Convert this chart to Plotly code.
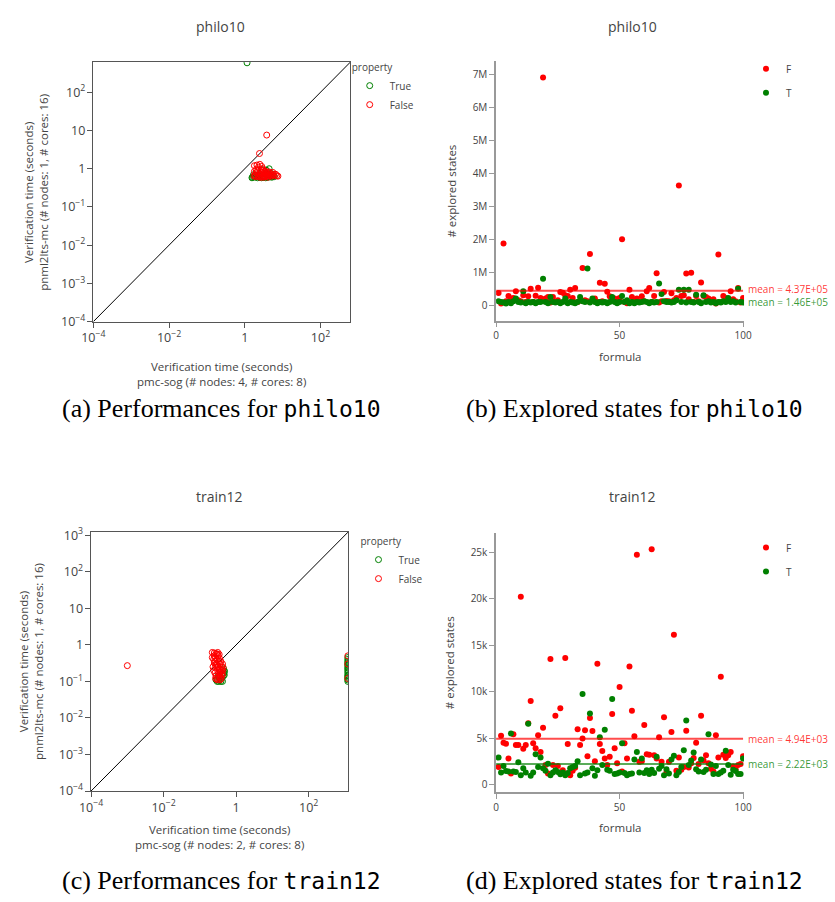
import plotly.graph_objects as go

W, H = 835, 902


def fx(p):
    return p / W


def fy(p):
    return 1 - p / H


# ---------------- data ----------------
# (a) philo10 : verification times (seconds)
A_TRUE_X = [1.15, 1.55, 1.6, 1.7, 1.9, 2.2, 2.5, 2.8, 3.2, 3.6, 4.0, 4.4, 3.7, 4.2, 4.8,
            5.2, 5.6, 6.0, 1.7, 2.0, 2.6, 3.0, 3.4, 3.9, 4.6, 2.3, 3.1, 2.9, 5.0, 1.8]
A_TRUE_Y = [590, 0.58, 0.6, 0.62, 0.6, 0.58, 0.6, 0.58, 0.6, 0.58, 0.62, 1.0, 0.92, 0.6, 0.62,
            0.6, 0.65, 0.62, 0.7, 0.68, 0.7, 0.66, 0.72, 0.7, 0.7, 0.64, 0.62, 0.95, 0.75, 0.64]
A_FALSE_X = [1.75, 1.8, 1.9, 2.0, 2.1, 2.2, 2.3, 2.4, 2.5, 2.6, 2.7, 2.8, 2.9, 3.0, 3.1, 3.2,
             3.3, 3.4, 3.5, 3.6, 3.7, 3.8, 3.9, 4.0, 4.2, 4.4, 4.6, 4.8, 5.0, 5.3, 5.6, 6.0,
             6.5, 7.0, 7.5, 1.8, 2.0, 2.2, 2.5, 2.8, 3.0, 1.9, 2.3, 2.7, 3.2, 3.6, 4.1, 4.5,
             5.5, 3.8, 2.45]
A_FALSE_Y = [0.65, 1.2, 0.7, 0.78, 1.25, 0.66, 1.1, 0.72, 1.3, 0.68, 0.82, 1.15, 0.63, 0.75,
             0.9, 0.66, 0.8, 0.7, 0.62, 0.78, 0.68, 0.74, 0.64, 0.72, 0.8, 0.66, 0.7, 0.75,
             0.64, 0.68, 0.7, 0.65, 0.72, 0.66, 0.64, 0.85, 0.95, 0.88, 0.6, 0.6, 1.0, 0.62,
             0.62, 0.92, 0.6, 0.86, 0.6, 0.82, 0.8, 7.6, 2.5]
A_LOG_RANGE = [-4, 2.79]

# (b) philo10 : explored states per formula (millions)
FORMULA = list(range(1, 101))
B_F_M = [0.37, 0.05, 1.87, 0.12, 0.28, 0.2, 0.22, 0.42, 0.15, 0.12,
         0.3, 0.1, 0.27, 0.5, 0.1, 0.29, 0.53, 0.22, 6.9, 0.2,
         0.25, 0.08, 0.25, 0.1, 0.15, 0.4, 0.38, 0.3, 0.28, 0.47,
         0.22, 0.52, 0.1, 0.14, 1.13, 0.15, 0.12, 1.55, 0.15, 0.2,
         0.1, 0.68, 0.12, 0.65, 0.41, 0.27, 0.15, 0.2, 0.08, 0.22,
         2.0, 0.1, 0.06, 0.47, 0.25, 0.1, 0.2, 0.1, 0.27, 0.12,
         0.42, 0.52, 0.1, 0.28, 0.97, 0.08, 0.12, 0.4, 0.13, 0.12,
         0.36, 0.15, 0.22, 3.63, 0.28, 0.3, 0.96, 0.18, 0.98, 0.1,
         0.28, 0.12, 0.69, 0.28, 0.25, 0.2, 0.14, 0.18, 0.05, 1.54,
         0.1, 0.28, 0.22, 0.15, 0.42, 0.18, 0.12, 0.52, 0.08, 0.22]
B_T_M = [0.12, 0.1, 0.08, 0.05, 0.1, 0.06, 0.12, 0.2, 0.1, 0.08,
         0.42, 0.06, 0.1, 0.08, 0.1, 0.06, 0.1, 0.1, 0.8, 0.1,
         0.06, 0.25, 0.1, 0.08, 0.1, 0.06, 0.1, 0.2, 0.06, 0.1,
         0.08, 0.06, 0.1, 0.25, 0.12, 0.1, 1.11, 0.08, 0.2, 0.1,
         0.06, 0.1, 0.08, 0.1, 0.06, 0.1, 0.25, 0.1, 0.06, 0.1,
         0.28, 0.1, 0.15, 0.06, 0.1, 0.06, 0.1, 0.08, 0.1, 0.12,
         0.1, 0.06, 0.1, 0.08, 0.1, 0.66, 0.34, 0.12, 0.1, 0.1,
         0.08, 0.1, 0.15, 0.47, 0.1, 0.47, 0.08, 0.47, 0.1, 0.08,
         0.32, 0.1, 0.06, 0.3, 0.1, 0.12, 0.08, 0.1, 0.06, 0.1,
         0.08, 0.12, 0.1, 0.22, 0.1, 0.12, 0.08, 0.5, 0.1, 0.08]
B_MEAN_F = 4.37e5
B_MEAN_T = 1.46e5

# (c) train12 : verification times (seconds)
C_TRUE_X = [0.3, 0.33, 0.36, 0.4, 0.44, 0.46, 0.48, 0.45, 0.42, 0.28, 0.38, 0.47, 0.35, 0.32,
            0.41] + [1200] * 17
C_TRUE_Y = [0.1, 0.1, 0.11, 0.12, 0.14, 0.17, 0.19, 0.22, 0.1, 0.11, 0.1, 0.15, 0.13, 0.14,
            0.16, 0.1, 0.11, 0.12, 0.13, 0.14, 0.15, 0.17, 0.19, 0.21, 0.23, 0.25, 0.28, 0.3,
            0.33, 0.36, 0.4, 0.45]
C_FALSE_X = [0.22, 0.25, 0.28, 0.3, 0.32, 0.22, 0.24, 0.26, 0.28, 0.3, 0.32, 0.34, 0.36, 0.38,
             0.4, 0.42, 0.25, 0.27, 0.29, 0.31, 0.33, 0.35, 0.37, 0.39, 0.3, 0.28, 0.26, 0.24,
             0.23, 0.25, 0.27, 0.29, 0.33, 0.36, 0.4, 0.42, 0.38, 0.35, 0.31, 0.34, 0.3, 0.27,
             0.33, 0.36, 0.4, 0.43, 0.44, 0.001, 1200, 1200, 1200]
C_FALSE_Y = [0.62, 0.6, 0.58, 0.55, 0.5, 0.45, 0.4, 0.35, 0.3, 0.28, 0.25, 0.22, 0.2, 0.18,
             0.16, 0.15, 0.32, 0.27, 0.24, 0.2, 0.17, 0.15, 0.13, 0.12, 0.12, 0.14, 0.17, 0.2,
             0.25, 0.5, 0.45, 0.4, 0.35, 0.3, 0.25, 0.3, 0.35, 0.42, 0.62, 0.55, 0.11, 0.12,
             0.13, 0.11, 0.2, 0.2, 0.24, 0.27, 0.5, 0.12, 0.3]
C_LOG_RANGE = [-4, 3.085]

# (d) train12 : explored states per formula (thousands)
D_F_K = [1.9, 5.25, 4.5, 4.4, 2.8, 1.2, 5.4, 4.25, 4.25, 20.2,
         3.85, 4.25, 6.6, 9.0, 4.45, 3.9, 5.3, 3.5, 6.1, 2.1,
         1.2, 13.5, 2.1, 7.4, 2.0, 8.2, 1.55, 13.6, 4.35, 1.0,
         1.5, 1.8, 5.95, 4.25, 4.95, 5.85, 3.05, 7.15, 5.75, 2.5,
         13.0, 4.35, 3.6, 2.8, 2.1, 3.0, 7.6, 3.9, 2.3, 10.5,
         1.4, 4.45, 2.8, 12.7, 7.95, 5.2, 24.7, 2.45, 2.5, 6.4,
         3.25, 3.2, 25.3, 3.15, 2.8, 5.1, 2.45, 7.25, 1.35, 2.45,
         5.65, 16.1, 1.5, 2.9, 1.6, 1.9, 5.8, 1.85, 2.3, 2.85,
         4.5, 2.2, 7.4, 2.6, 3.15, 2.3, 1.7, 1.4, 5.3, 2.9,
         11.6, 3.2, 2.85, 3.15, 3.5, 1.95, 1.65, 2.1, 2.2, 3.05]
D_T_K = [2.9, 1.3, 2.0, 1.45, 1.4, 5.5, 1.4, 1.35, 2.4, 1.0,
         1.75, 1.3, 6.55, 0.95, 1.3, 3.25, 1.9, 2.9, 1.75, 1.5,
         2.25, 1.0, 1.3, 1.55, 1.35, 1.1, 1.3, 1.0, 1.25, 1.75,
         1.9, 2.0, 2.5, 1.0, 9.75, 1.2, 1.3, 7.65, 1.75, 0.95,
         1.55, 5.1, 2.1, 5.9, 1.6, 1.5, 9.2, 1.15, 1.2, 1.3,
         4.45, 1.25, 1.0, 1.15, 1.2, 2.7, 3.5, 1.3, 2.8, 1.25,
         1.55, 1.15, 1.6, 1.25, 3.0, 1.7, 2.0, 1.0, 1.65, 1.2,
         2.7, 3.1, 1.0, 1.35, 1.9, 3.7, 6.9, 2.1, 2.6, 3.45,
         1.65, 1.4, 2.7, 1.35, 1.6, 5.4, 2.15, 1.15, 2.0, 1.15,
         1.3, 1.5, 3.65, 2.1, 1.05, 1.6, 1.45, 1.15, 1.15, 2.8]
D_MEAN_F = 4.94e3
D_MEAN_T = 2.22e3

MEAN_X = [0, 100]

TITLES = ["philo10", "philo10", "train12", "train12"]
CAPTIONS = [("(a) Performances for ", "philo10"), ("(b) Explored states for ", "philo10"),
            ("(c) Performances for ", "train12"), ("(d) Explored states for ", "train12")]
Y_PERF_TITLE = "Verification time (seconds)<br>pnml2lts-mc (# nodes: 1, # cores: 16)"
X_PERF_TITLES = ["Verification time (seconds)<br>pmc-sog (# nodes: 4, # cores: 8)",
                 "Verification time (seconds)<br>pmc-sog (# nodes: 2, # cores: 8)"]

# ---------------- styling ----------------
RED = "#ff0000"
GREEN = "#008000"
RED_MEAN = "rgba(255,0,0,0.7)"
GREEN_MEAN = "rgba(0,128,0,0.65)"
RED_MEAN_TXT = "rgba(255,0,0,0.8)"
GREEN_MEAN_TXT = "rgba(0,128,0,0.8)"
TXT = "#444"

fig = go.Figure()


def open_marker(c):
    return dict(symbol="circle-open", size=6, color=c, line=dict(width=1, color=c))


def dot_marker(c):
    return dict(symbol="circle", size=6, color=c, line=dict(width=0))


# ---- (a)
fig.add_trace(go.Scatter(x=[10 ** A_LOG_RANGE[0], 10 ** A_LOG_RANGE[1]],
                         y=[10 ** A_LOG_RANGE[0], 10 ** A_LOG_RANGE[1]],
                         mode="lines", line=dict(color="black", width=1),
                         showlegend=False, hoverinfo="skip", xaxis="x", yaxis="y"))
fig.add_trace(go.Scatter(x=A_TRUE_X, y=A_TRUE_Y, mode="markers", name="True",
                         marker=open_marker(GREEN), legend="legend", xaxis="x", yaxis="y"))
fig.add_trace(go.Scatter(x=A_FALSE_X, y=A_FALSE_Y, mode="markers", name="False",
                         marker=open_marker(RED), legend="legend", xaxis="x", yaxis="y"))

# ---- (b)
fig.add_trace(go.Scatter(x=FORMULA, y=[v * 1e6 for v in B_F_M], mode="markers", name="F",
                         marker=dot_marker(RED), legend="legend2", legendgroup="F",
                         xaxis="x2", yaxis="y2"))
fig.add_trace(go.Scatter(x=FORMULA, y=[v * 1e6 for v in B_T_M], mode="markers", name="T",
                         marker=dot_marker(GREEN), legend="legend2", legendgroup="T",
                         xaxis="x2", yaxis="y2"))
fig.add_trace(go.Scatter(x=MEAN_X, y=[B_MEAN_F] * 2, mode="lines",
                         line=dict(color=RED_MEAN, width=2), showlegend=False,
                         hoverinfo="skip", xaxis="x2", yaxis="y2"))
fig.add_trace(go.Scatter(x=MEAN_X, y=[B_MEAN_T] * 2, mode="lines",
                         line=dict(color=GREEN_MEAN, width=2), showlegend=False,
                         hoverinfo="skip", xaxis="x2", yaxis="y2"))

# ---- (c)
fig.add_trace(go.Scatter(x=[10 ** C_LOG_RANGE[0], 10 ** C_LOG_RANGE[1]],
                         y=[10 ** C_LOG_RANGE[0], 10 ** C_LOG_RANGE[1]],
                         mode="lines", line=dict(color="black", width=1),
                         showlegend=False, hoverinfo="skip", xaxis="x3", yaxis="y3"))
fig.add_trace(go.Scatter(x=C_TRUE_X, y=C_TRUE_Y, mode="markers", name="True",
                         marker=open_marker(GREEN), legend="legend3", xaxis="x3", yaxis="y3"))
fig.add_trace(go.Scatter(x=C_FALSE_X, y=C_FALSE_Y, mode="markers", name="False",
                         marker=open_marker(RED), legend="legend3", xaxis="x3", yaxis="y3"))

# ---- (d)
fig.add_trace(go.Scatter(x=FORMULA, y=[v * 1e3 for v in D_F_K], mode="markers", name="F",
                         marker=dot_marker(RED), legend="legend4", legendgroup="F",
                         xaxis="x4", yaxis="y4"))
fig.add_trace(go.Scatter(x=FORMULA, y=[v * 1e3 for v in D_T_K], mode="markers", name="T",
                         marker=dot_marker(GREEN), legend="legend4", legendgroup="T",
                         xaxis="x4", yaxis="y4"))
fig.add_trace(go.Scatter(x=MEAN_X, y=[D_MEAN_F] * 2, mode="lines",
                         line=dict(color=RED_MEAN, width=2), showlegend=False,
                         hoverinfo="skip", xaxis="x4", yaxis="y4"))
fig.add_trace(go.Scatter(x=MEAN_X, y=[D_MEAN_T] * 2, mode="lines",
                         line=dict(color=GREEN_MEAN, width=2), showlegend=False,
                         hoverinfo="skip", xaxis="x4", yaxis="y4"))

TICKFONT = dict(size=10, color=TXT)


def log_axis(domain, anchor, rng, dtick):
    return dict(type="log", domain=domain, anchor=anchor, range=rng, dtick=dtick,
                exponentformat="power", showline=True, mirror=True, linecolor="#555",
                linewidth=1, ticks="outside", ticklen=5, tickcolor="#555", tickwidth=1,
                showgrid=False, zeroline=False, tickfont=TICKFONT)


def lin_axis(domain, anchor, rng, dtick):
    return dict(domain=domain, anchor=anchor, range=rng, dtick=dtick, showline=True,
                mirror=False, linecolor="#999", linewidth=1.5, ticks="outside", ticklen=5,
                tickcolor="#999", tickwidth=1, showgrid=False, zeroline=False,
                tickfont=TICKFONT)


LEG = dict(xanchor="left", yanchor="top", bgcolor="rgba(0,0,0,0)",
           font=dict(size=10, color=TXT, family="Open Sans"))

fig.update_layout(
    width=W, height=H, margin=dict(l=0, r=0, t=0, b=0),
    paper_bgcolor="white", plot_bgcolor="white",
    font=dict(family="Open Sans", color=TXT),
    xaxis=log_axis([fx(83.3), fx(346.7)], "y", A_LOG_RANGE, 2),
    yaxis=log_axis([fy(320), fy(56)], "x", A_LOG_RANGE, 1),
    xaxis2=lin_axis([fx(496), fx(750)], "y2", [0, 100.4], 50),
    yaxis2=lin_axis([fy(319), fy(55)], "x2", [-0.47e6, 7.40e6], 1e6),
    xaxis3=log_axis([fx(81), fx(344.3)], "y3", C_LOG_RANGE, 2),
    yaxis3=log_axis([fy(797.3), fy(534)], "x3", C_LOG_RANGE, 1),
    xaxis4=lin_axis([fx(496), fx(750)], "y4", [0, 100.4], 50),
    yaxis4=lin_axis([fy(798.3), fy(535)], "x4", [-800, 27040], 5000),
    legend=dict(LEG, x=fx(346), y=fy(52), title=dict(text="property", font=dict(size=10))),
    legend2=dict(LEG, x=fx(752), y=fy(48), tracegroupgap=5),
    legend3=dict(LEG, x=fx(355), y=fy(534), title=dict(text="property", font=dict(size=10))),
    legend4=dict(LEG, x=fx(752), y=fy(535), tracegroupgap=5),
)

ann = []
# subplot titles
for text, (x, y) in zip(TITLES, [(214, 20), (636, 20), (213, 498), (636, 498)]):
    ann.append(dict(text=text, x=fx(x), y=fy(y), xref="paper", yref="paper",
                    xanchor="center", yanchor="middle", showarrow=False,
                    font=dict(size=14, color=TXT)))
# performance axis titles
for text, (x, y) in zip(X_PERF_TITLES, [(215, 373.5), (213, 844.5)]):
    ann.append(dict(text=text, x=fx(x), y=fy(y), xref="paper", yref="paper",
                    xanchor="center", yanchor="middle", showarrow=False,
                    font=dict(size=11.5, color=TXT)))
for (x, y) in [(24.5, 188), (19.5, 666)]:
    ann.append(dict(text=Y_PERF_TITLE, x=fx(x), y=fy(y), xref="paper", yref="paper",
                    xanchor="center", yanchor="middle", showarrow=False, textangle=-90,
                    font=dict(size=11.5, color=TXT)))
# explored-states axis titles
for (x, y) in [(623, 355), (623, 834)]:
    ann.append(dict(text="formula", x=fx(x), y=fy(y), xref="paper", yref="paper",
                    xanchor="center", yanchor="middle", showarrow=False,
                    font=dict(size=11.5, color=TXT)))
for (x, y) in [(450.5, 187), (449, 667)]:
    ann.append(dict(text="# explored states", x=fx(x), y=fy(y), xref="paper", yref="paper",
                    xanchor="center", yanchor="middle", showarrow=False, textangle=-90,
                    font=dict(size=11.5, color=TXT)))
# mean labels (small vertical nudges keep the two philo10 labels apart)
for val, col, yref, ys in [(B_MEAN_F, RED_MEAN_TXT, "y2", 1.6),
                           (B_MEAN_T, GREEN_MEAN_TXT, "y2", -1.7),
                           (D_MEAN_F, RED_MEAN_TXT, "y4", 0),
                           (D_MEAN_T, GREEN_MEAN_TXT, "y4", 0)]:
    ann.append(dict(text=f"mean = {val:.2E}", x=fx(752), y=val, xref="paper", yref=yref,
                    xanchor="left", yanchor="middle", showarrow=False, yshift=ys,
                    font=dict(size=10, color=col)))
# captions
for (pre, code), (x, y) in zip(CAPTIONS, [(215, 408), (638, 408), (215, 888), (638, 888)]):
    ann.append(dict(text=pre + '<span style="font-family:DejaVu Sans Mono;font-size:23px">'
                    + code + "</span>",
                    x=fx(x), y=fy(y), xref="paper", yref="paper",
                    xanchor="center", yanchor="middle", showarrow=False,
                    font=dict(size=26, color="black", family="Liberation Serif")))
fig.update_layout(annotations=ann)

fig.write_html("out.html")
